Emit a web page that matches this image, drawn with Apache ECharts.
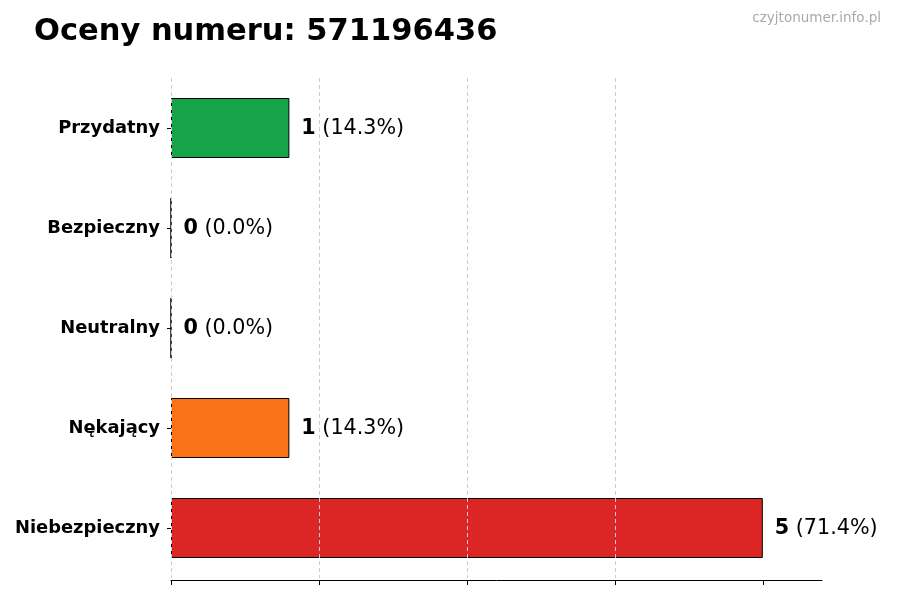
<!DOCTYPE html>
<html>
<head>
<meta charset="utf-8">
<script src="https://cdn.jsdelivr.net/npm/echarts@6/dist/echarts.min.js"></script>
<style>
  html, body { margin: 0; padding: 0; background: #fff; }
  #chart { width: 900px; height: 600px; }
</style>
</head>
<body>
<div id="chart"></div>
<script>
const categories = ['Przydatny', 'Bezpieczny', 'Neutralny', 'Nękający', 'Niebezpieczny'];
const counts = [1, 0, 0, 1, 5];
const percents = ['14.3%', '0.0%', '0.0%', '14.3%', '71.4%'];
const colors = ['#16a34a', '#22c55e', '#9ca3af', '#f97316', '#dc2626'];
const xTicks = [0, 1.25, 2.5, 3.75, 5];

const chart = echarts.init(document.getElementById('chart'));

const font = 'DejaVu Sans';

chart.setOption({
    animation: false,
    textStyle: { fontFamily: font },
    title: [
        {
            text: 'Oceny numeru: 571196436',
            left: 29,
            top: 12,
            textStyle: { fontFamily: font, fontSize: 30.5, fontWeight: 'bold', color: '#000' }
        },
        {
            text: 'czyjtonumer.info.pl',
            right: 14,
            top: 6,
            textStyle: { fontFamily: font, fontSize: 13.5, fontWeight: 'normal', color: '#aaaaaa' }
        }
    ],
    grid: { left: 171, right: 78, top: 78, bottom: 22 },
    xAxis: {
        type: 'value',
        min: 0,
        max: 5.5,
        interval: 1.25,
        offset: 2,
        z: 5,
        axisLine: { show: true, lineStyle: { color: '#000', width: 1 } },
        axisTick: { show: true, length: 5, customValues: xTicks, lineStyle: { color: '#000' } },
        axisLabel: { show: false },
        splitLine: {
            show: true,
            showMaxLine: false,
            lineStyle: { color: '#cccccc', type: [4, 3], width: 1 }
        }
    },
    yAxis: {
        type: 'category',
        data: categories,
        inverse: true,
        axisLine: { show: false },
        axisTick: { show: true, alignWithLabel: true, length: 4, lineStyle: { color: '#000' } },
        axisLabel: {
            margin: 11,
            padding: [3, 0, 0, 0],
            fontFamily: font,
            fontSize: 17.9,
            fontWeight: 'bold',
            color: '#000'
        }
    },
    series: [{
        type: 'bar',
        barCategoryGap: '40%',
        data: counts.map((v, i) => ({
            value: v,
            itemStyle: { color: colors[i], borderColor: '#000', borderWidth: 1 }
        })),
        label: {
            show: true,
            position: 'right',
            distance: 12,
            padding: [2, 0, 0, 0],
            formatter: p => '{b|' + p.value + '} (' + percents[p.dataIndex] + ')',
            fontFamily: font,
            fontSize: 20.7,
            color: '#000',
            rich: {
                b: { fontFamily: font, fontSize: 20.7, fontWeight: 'bold', color: '#000' }
            }
        }
    }]
});
</script>
</body>
</html>
